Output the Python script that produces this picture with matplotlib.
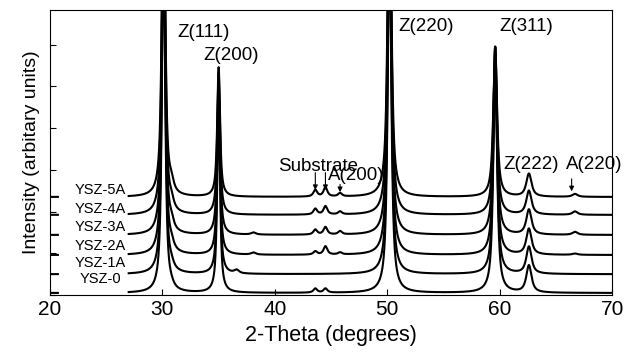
import numpy as np
import matplotlib.pyplot as plt

plt.rcParams['font.family'] = ['Liberation Sans', 'DejaVu Sans']

# samples, bottom to top
samples = ['YSZ-0', 'YSZ-1A', 'YSZ-2A', 'YSZ-3A', 'YSZ-4A', 'YSZ-5A']
offsets = [0.05, 0.50, 0.96, 1.44, 1.92, 2.35]
label_y = [0.38, 0.77, 1.17, 1.63, 2.06, 2.52]

# measured ranges (degrees 2-theta)
scan_ranges = [(20.0, 20.7), (27.0, 70.0)]

# peak centre, FWHM, and height above baseline for each sample (bottom to top)
peak_pos = [30.1, 30.8, 35.0, 36.6, 38.1, 43.6, 44.5, 45.8, 50.2, 59.6, 62.6, 66.7]
peak_fwhm = [0.34, 0.5, 0.3, 0.5, 0.5, 0.4, 0.4, 0.4, 0.38, 0.4, 0.55, 0.55]
peak_heights = [
    [8.5, 8.5, 8.5, 8.5, 8.5, 8.5],         # Z(111)
    [0.05, 0.10, 0.15, 0.18, 0.20, 0.22],   # shoulder
    [4.5, 4.2, 3.9, 3.7, 3.4, 3.1],         # Z(200)
    [0.0, 0.08, 0.0, 0.0, 0.0, 0.0],
    [0.0, 0.0, 0.05, 0.05, 0.0, 0.0],
    [0.10, 0.0, 0.08, 0.12, 0.14, 0.16],    # substrate
    [0.10, 0.0, 0.20, 0.18, 0.20, 0.22],    # substrate
    [0.0, 0.0, 0.05, 0.08, 0.07, 0.08],     # A(200)
    [8.5, 8.5, 8.5, 8.5, 8.5, 8.5],         # Z(220)
    [5.5, 5.1, 4.8, 4.5, 4.0, 3.6],         # Z(311)
    [0.65, 0.65, 0.62, 0.6, 0.57, 0.55],    # Z(222)
    [0.0, 0.0, 0.03, 0.07, 0.08, 0.07],     # A(220)
]

peak_labels = ['Z(111)', 'Z(200)', 'Z(220)', 'Z(311)', 'Z(222)']
peak_label_x = [33.65, 36.1, 53.5, 62.4, 62.8]
peak_label_y = [6.3, 5.75, 6.43, 6.43, 3.12]


def pattern(x, k):
    y = np.zeros_like(x)
    for pos, w, hs in zip(peak_pos, peak_fwhm, peak_heights):
        h = hs[k]
        lor = 1.0 / (1.0 + ((x - pos) / (w / 2)) ** 2)
        gau = np.exp(-np.log(2) * ((x - pos) / (w / 2)) ** 2)
        y += h * (0.85 * lor + 0.15 * gau)
    return y


fig = plt.figure(figsize=(6.33, 3.56), dpi=100)
ax = fig.add_axes([0.079, 0.171, 0.888, 0.801])

for k, name in enumerate(samples):
    for lo, hi in scan_ranges:
        x = np.linspace(lo, hi, int((hi - lo) * 100) + 2)
        ax.plot(x, pattern(x, k) + offsets[k], color='k', lw=1.5)
    ax.text(24.45, label_y[k], name, ha='center', va='center', fontsize=10.5)

for lab, lx, ly in zip(peak_labels, peak_label_x, peak_label_y):
    ax.text(lx, ly, lab, ha='center', va='center', fontsize=13.5)

arrow = dict(arrowstyle='-|>', color='k', lw=0.8, mutation_scale=7)
ax.text(43.85, 3.07, 'Substrate', ha='center', va='center', fontsize=13.5)
ax.annotate('', xy=(43.6, 2.45), xytext=(43.6, 3.0), arrowprops=arrow)
ax.annotate('', xy=(44.5, 2.45), xytext=(44.5, 3.0), arrowprops=arrow)
ax.text(47.2, 2.86, 'A(200)', ha='center', va='center', fontsize=13.5)
ax.annotate('', xy=(45.8, 2.4), xytext=(45.8, 2.72), arrowprops=arrow)
ax.text(68.4, 3.12, 'A(220)', ha='center', va='center', fontsize=13.5)
ax.annotate('', xy=(66.4, 2.42), xytext=(66.4, 2.85), arrowprops=arrow)

ax.set_xlim(20, 70)
ax.set_ylim(0, 6.83)
ax.set_xticks([20, 30, 40, 50, 60, 70])
ax.set_yticks(range(7))
ax.set_yticklabels([])
ax.tick_params(direction='in', length=4, labelsize=15)
ax.set_xlabel('2-Theta (degrees)', fontsize=15.5)
ax.set_ylabel('Intensity (arbitary units)', fontsize=14)

fig.savefig('out.png', dpi=100)
